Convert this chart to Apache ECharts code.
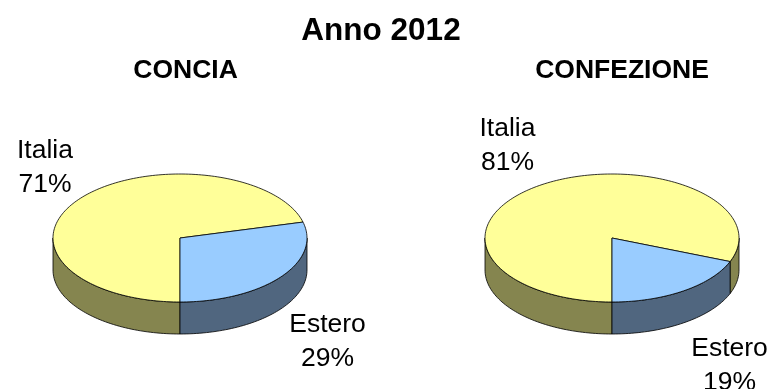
<!DOCTYPE html>
<html>
<head>
<meta charset="utf-8">
<style>html,body{margin:0;padding:0;background:#fff}#chart{width:773px;height:389px}</style>
<script src="https://cdn.jsdelivr.net/npm/echarts@6/dist/echarts.min.js"></script>
</head>
<body>
<div id="chart"></div>
<script>
// Quote per mercato di destinazione, anno 2012
const chartTitle = 'Anno 2012';
const sliceNames = ['Italia', 'Estero'];
const conciaValues = [71, 29];
const confezioneValues = [81, 19];
const pieTitles = ['CONCIA', 'CONFEZIONE'];

const topColors = ['#FFFF99', '#99CCFF'];
const wallColors = ['#85854F', '#50667F'];
const fontFamily = '"Liberation Sans", Arial, sans-serif';

// Ellipse geometry of a tilted disc with a visible rim
const RX = 127, RY = 64, DEPTH = 32, CY = 238;

function arcPoints(cx, cy, fromDeg, toDeg) {
  const pts = [];
  const steps = Math.max(2, Math.ceil(Math.abs(toDeg - fromDeg) / 1.5));
  for (let i = 0; i <= steps; i++) {
    const a = (fromDeg + (toDeg - fromDeg) * i / steps) * Math.PI / 180;
    pts.push([cx + RX * Math.cos(a), cy + RY * Math.sin(a)]);
  }
  return pts;
}

// Front-facing parts of an angular range: the rim shows where sin > 0
function visibleRanges(start, end) {
  const out = [];
  [[0, 180], [360, 540]].forEach(function (w) {
    const a = Math.max(start, w[0]), b = Math.min(end, w[1]);
    if (b > a) out.push([a, b]);
  });
  return out;
}

function pieSeries(values, cx, labelAnchors) {
  const total = values.reduce(function (s, v) { return s + v; }, 0);
  return {
    type: 'custom',
    coordinateSystem: 'none',
    silent: true,
    animation: false,
    data: values.map(function (v, i) { return { name: sliceNames[i], value: [v] }; }),
    renderItem: function (params, api) {
      const i = params.dataIndex;
      const before = values.slice(0, i).reduce(function (s, v) { return s + v; }, 0);
      // Slices run clockwise from the front of the disc
      const start = 90 + before / total * 360;
      const end = start + api.value(0) / total * 360;
      const children = [];
      visibleRanges(start, end).forEach(function (r) {
        const upper = arcPoints(cx, CY, r[0], r[1]);
        const lower = arcPoints(cx, CY + DEPTH, r[0], r[1]).reverse();
        children.push({
          type: 'polygon', z2: 1,
          shape: { points: upper.concat(lower) },
          style: { fill: wallColors[i], stroke: '#000', lineWidth: 0.8 }
        });
      });
      children.push({
        type: 'polygon', z2: 2,
        shape: { points: [[cx, CY]].concat(arcPoints(cx, CY, start, end)) },
        style: { fill: topColors[i], stroke: '#000', lineWidth: 0.8, lineJoin: 'round' }
      });
      children.push({
        type: 'text', z2: 3,
        style: {
          x: labelAnchors[i][0], y: labelAnchors[i][1],
          text: sliceNames[i] + '\n' + api.value(0) + '%',
          align: 'center', verticalAlign: 'middle',
          fill: '#000', fontFamily: fontFamily, fontSize: 26.5, lineHeight: 34
        }
      });
      return { type: 'group', children: children };
    }
  };
}

const chart = echarts.init(document.getElementById('chart'), null, { renderer: 'canvas' });
chart.setOption({
  backgroundColor: '#fff',
  animation: false,
  title: [
    { text: chartTitle, left: 376, top: 10, textAlign: 'center',
      textStyle: { fontFamily: fontFamily, fontSize: 31.5, fontWeight: 'bold', color: '#000' } },
    { text: pieTitles[0], left: 180.5, top: 52, textAlign: 'center',
      textStyle: { fontFamily: fontFamily, fontSize: 26.5, fontWeight: 'bold', color: '#000' } },
    { text: pieTitles[1], left: 617, top: 52, textAlign: 'center',
      textStyle: { fontFamily: fontFamily, fontSize: 26.5, fontWeight: 'bold', color: '#000' } }
  ],
  series: [
    pieSeries(conciaValues, 180, [[45, 168], [327.5, 342]]),
    pieSeries(confezioneValues, 612, [[507.5, 145.5], [729.5, 365.5]])
  ]
});
</script>
</body>
</html>
